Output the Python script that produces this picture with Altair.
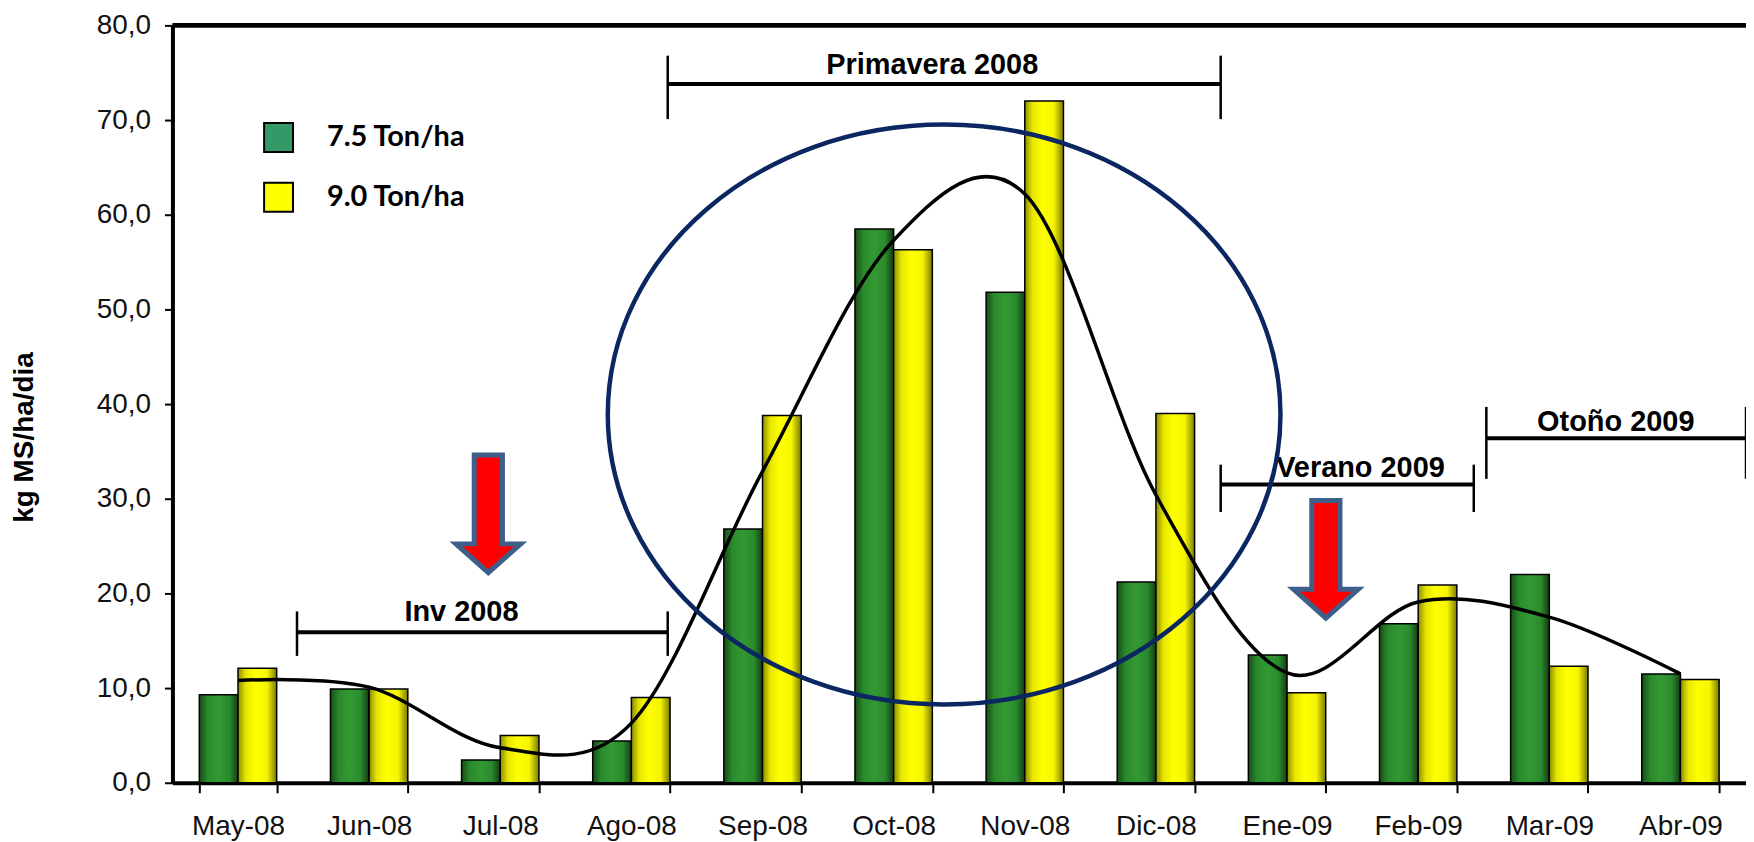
import altair as alt
import pandas as pd

# ---------------- data ----------------
meses = ["May-08", "Jun-08", "Jul-08", "Ago-08", "Sep-08", "Oct-08",
         "Nov-08", "Dic-08", "Ene-09", "Feb-09", "Mar-09", "Abr-09"]
series = ["7.5 Ton/ha", "9.0 Ton/ha"]
valores_75 = [9.3, 9.9, 2.4, 4.4, 26.8, 58.5, 51.8, 21.2, 13.5, 16.8, 22.0, 11.5]
valores_90 = [12.1, 9.9, 5.0, 9.0, 38.8, 56.3, 72.0, 39.0, 9.5, 20.9, 12.3, 10.9]
tendencia = [10.8, 10.1, 3.7, 6.3, 32.9, 57.3, 62.2, 30.4, 11.6, 19.1, 17.5, 11.5]
marcas_y = [0, 10, 20, 30, 40, 50, 60, 70, 80]

# season brackets (x in month units 0..12, y in kg MS/ha/dia)
periodos = ["Inv 2008", "Primavera 2008", "Verano 2009", "Otoño 2009"]
periodo_desde = [0.95, 3.777, 7.994, 10.02]
periodo_hasta = [3.777, 7.994, 9.924, 12.0]
periodo_nivel = [15.9, 73.8, 31.5, 36.4]
periodo_tope_bajo = [13.4, 70.1, 28.6, 32.1]
periodo_tope_alto = [18.1, 76.8, 33.6, 39.7]
periodo_texto_x = [2.204, 5.794, 9.06, 11.007]
periodo_texto_y = [17.05, 74.9, 32.3, 37.2]

# red arrows and navy ellipse (centres)
flecha_x = [2.409, 8.796]
flecha_y = [28.4, 23.6]
elipse_x = [5.885]
elipse_y = [38.9]

# ---------------- tables ----------------
barras = pd.DataFrame({
    "mes": meses + meses,
    "serie": [series[0]] * len(meses) + [series[1]] * len(meses),
    "valor": valores_75 + valores_90,
})
tend = pd.DataFrame({"mes": meses, "tendencia": tendencia})
per = pd.DataFrame({
    "periodo": periodos, "desde": periodo_desde, "hasta": periodo_hasta,
    "nivel": periodo_nivel, "tx": periodo_texto_x, "ty": periodo_texto_y,
})
topes = pd.DataFrame({
    "x": periodo_desde + periodo_hasta,
    "y1": periodo_tope_bajo + periodo_tope_bajo,
    "y2": periodo_tope_alto + periodo_tope_alto,
})
flechas = pd.DataFrame({"x": flecha_x, "y": flecha_y})
elipse = pd.DataFrame({"x": elipse_x, "y": elipse_y})

FONT = "Liberation Sans"
y_scale = alt.Scale(domain=[0, 80], nice=False, zero=False)
xq_scale = alt.Scale(domain=[0, 12], nice=False, zero=False)

x_axis = alt.Axis(
    title=None, labelAngle=0, labelFont=FONT, labelFontSize=28,
    labelColor="#111111", labelPadding=20, tickBand="extent", tickSize=10,
    tickWidth=2, tickColor="black", domainColor="black", domainWidth=4,
    labelOverlap=False, grid=False,
)
y_axis = alt.Axis(
    title="kg MS/ha/dia", values=marcas_y,
    labelExpr="replace(format(datum.value, '.1f'), '.', ',')",
    labelFont=FONT, labelFontSize=28, labelColor="#111111", labelPadding=14,
    tickSize=8, tickWidth=2, tickColor="black", domainColor="black",
    domainWidth=4, grid=False, labelOverlap=False,
    titleFont=FONT, titleFontSize=28, titleFontWeight="bold",
    titleColor="black", titleAngle=270, titleX=-148, titleY=413,
    titleAlign="center", titleBaseline="middle",
)

x_band = alt.X("mes:N", sort=meses,
               scale=alt.Scale(paddingInner=0.41, paddingOuter=0.205),
               axis=x_axis)
x_band_plain = alt.X("mes:N", sort=meses)
x_off = alt.XOffset("serie:N", sort=series,
                    scale=alt.Scale(domain=series, paddingInner=0, paddingOuter=0))

grad_verde = alt.LinearGradient(
    gradient="linear", x1=0, x2=1, y1=0, y2=0,
    stops=[alt.GradientStop(color="#174d17", offset=0),
           alt.GradientStop(color="#2a8a2c", offset=0.22),
           alt.GradientStop(color="#339933", offset=0.5),
           alt.GradientStop(color="#2a8a2c", offset=0.78),
           alt.GradientStop(color="#143c14", offset=1)])
grad_amarillo = alt.LinearGradient(
    gradient="linear", x1=0, x2=1, y1=0, y2=0,
    stops=[alt.GradientStop(color="#8c8c00", offset=0),
           alt.GradientStop(color="#e6e600", offset=0.2),
           alt.GradientStop(color="#ffff00", offset=0.45),
           alt.GradientStop(color="#f5f500", offset=0.75),
           alt.GradientStop(color="#7a7a00", offset=1)])

legend = alt.Legend(
    title=None, orient="none", legendX=91, legendY=97, padding=0,
    symbolType="square", symbolSize=841, symbolStrokeColor="black",
    symbolStrokeWidth=2, symbolOpacity=1, labelFont="Lato",
    labelFontSize=29, labelFontWeight="bold", labelColor="black",
    labelOffset=33, rowPadding=23,
)

capa_leyenda = alt.Chart(barras).mark_bar(opacity=0).encode(
    x=x_band, xOffset=x_off,
    y=alt.Y("valor:Q", scale=y_scale, axis=y_axis),
    color=alt.Color("serie:N", sort=series,
                    scale=alt.Scale(domain=series, range=["#339966", "#FFFF00"]),
                    legend=legend),
)
barras_verdes = alt.Chart(barras).transform_filter(
    alt.datum.serie == series[0]
).mark_bar(fill=grad_verde, stroke="black", strokeWidth=1.5).encode(
    x=x_band_plain, xOffset=x_off,
    y=alt.Y("valor:Q", scale=y_scale),
)
barras_amarillas = alt.Chart(barras).transform_filter(
    alt.datum.serie == series[1]
).mark_bar(fill=grad_amarillo, stroke="black", strokeWidth=1.5).encode(
    x=x_band_plain, xOffset=x_off,
    y=alt.Y("valor:Q", scale=y_scale),
)
linea = alt.Chart(tend).mark_line(
    interpolate="cardinal", tension=0, color="black", strokeWidth=3.5
).encode(
    x=x_band_plain,
    y=alt.Y("tendencia:Q", scale=y_scale),
)
grupo_barras = alt.layer(capa_leyenda, barras_verdes, barras_amarillas, linea)

# ---------------- annotations ----------------
borde_sup = alt.Chart(elipse).mark_rule(color="black", strokeWidth=5).encode(
    y=alt.YDatum(80, scale=y_scale)
)
lineas_periodo = alt.Chart(per).mark_rule(color="black", strokeWidth=4).encode(
    x=alt.X("desde:Q", scale=xq_scale, axis=None), x2="hasta:Q",
    y=alt.Y("nivel:Q", scale=y_scale),
)
topes_periodo = alt.Chart(topes).mark_rule(color="black", strokeWidth=2.5).encode(
    x=alt.X("x:Q", scale=xq_scale, axis=None),
    y=alt.Y("y1:Q", scale=y_scale), y2="y2:Q",
)
textos_periodo = alt.Chart(per).mark_text(
    font=FONT, fontSize=29, fontWeight="bold", color="black",
    align="center", baseline="alphabetic",
).encode(
    x=alt.X("tx:Q", scale=xq_scale, axis=None),
    y=alt.Y("ty:Q", scale=y_scale),
    text="periodo:N",
)

FORMA_ELIPSE = ("M -1 0 C -1 -0.4761 -0.5523 -0.862 0 -0.862 "
                "C 0.5523 -0.862 1 -0.4761 1 0 "
                "C 1 0.4761 0.5523 0.862 0 0.862 "
                "C -0.5523 0.862 -1 0.4761 -1 0 Z")
FORMA_FLECHA = ("M -0.24 -1 L 0.24 -1 L 0.24 0.51 L 0.55 0.51 "
                "L 0 1 L -0.55 0.51 L -0.24 0.51 Z")

capa_elipse = alt.Chart(elipse).mark_point(
    shape=FORMA_ELIPSE, size=455625, filled=False, color="#0B2762",
    strokeWidth=4.5, opacity=1,
).encode(
    x=alt.X("x:Q", scale=xq_scale, axis=None),
    y=alt.Y("y:Q", scale=y_scale),
)
capa_flechas = alt.Chart(flechas).mark_point(
    shape=FORMA_FLECHA, size=13924, filled=True, fill="#FF0000",
    stroke="#3E5F8A", strokeWidth=5, opacity=1, strokeJoin="miter",
).encode(
    x=alt.X("x:Q", scale=xq_scale, axis=None),
    y=alt.Y("y:Q", scale=y_scale),
)
grupo_notas = alt.layer(borde_sup, lineas_periodo, topes_periodo,
                        textos_periodo, capa_elipse, capa_flechas)

chart = alt.layer(grupo_barras, grupo_notas).resolve_scale(
    x="independent"
).properties(
    width=1579, height=760,
    autosize=alt.AutoSizeParams(type="none"),
    padding={"left": 165, "top": 16, "right": 0, "bottom": 60},
).configure_view(
    fill="#E1E1E1", strokeOpacity=0
).configure(background="white")

chart.save("out.html", embed_options={"renderer": "svg", "actions": False})
